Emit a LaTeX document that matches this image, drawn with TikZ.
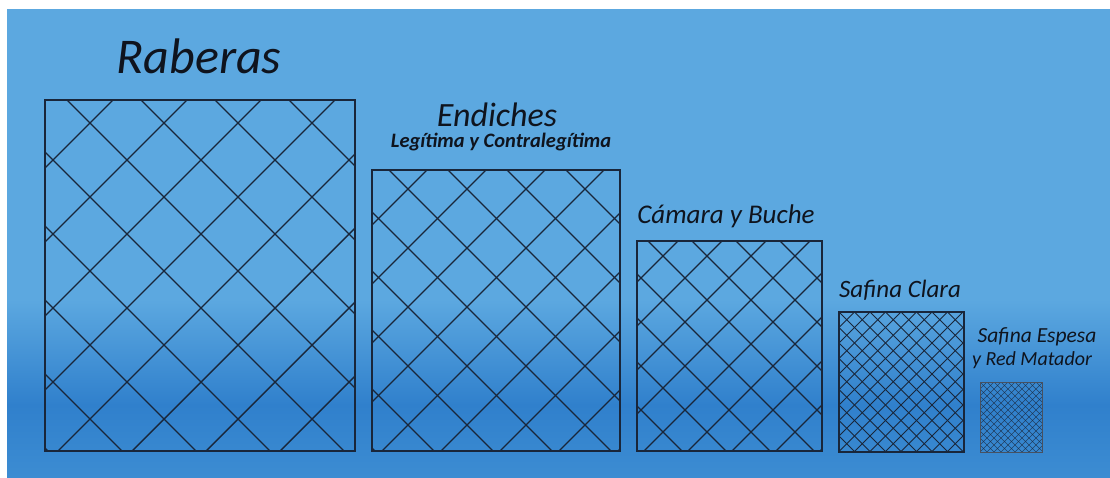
\documentclass[tikz,border=0pt]{standalone}
\usepackage{fontspec}
\setmainfont{Carlito}
\definecolor{bgtop}{RGB}{92,168,224}
\definecolor{bgmid}{RGB}{80,158,220}
\definecolor{bgdark}{RGB}{48,128,204}
\definecolor{bgbot}{RGB}{60,140,210}
\definecolor{ink}{RGB}{25,38,58}
\definecolor{txt}{RGB}{15,20,30}
\tikzset{
  meshline/.style={draw=ink, line cap=round},
  boxline/.style={draw=ink, line width=1.8pt},
  lbl/.style={text=txt, inner sep=0pt, anchor=base},
}
% #1 x1, #2 y1, #3 x2, #4 y2, #5 start of x+y, #6 start of x-y, #7 period, #8 count, #9 line width
\newcommand{\meshbox}[9]{%
  \begin{scope}
    \clip (#1,#2) rectangle (#3,#4);
    \foreach \k in {0,...,#8}{%
      \pgfmathsetmacro{\cc}{#5+\k*#7}%
      \pgfmathsetmacro{\dd}{#6+\k*#7}%
      \draw[meshline,line width=#9] (\cc-#2,#2) -- (\cc-#4,#4);
      \draw[meshline,line width=#9] (\dd+#2,#2) -- (\dd+#4,#4);
    }
  \end{scope}
}
\begin{document}
\begin{tikzpicture}[x=1pt,y=-1pt]
\useasboundingbox (0,0) rectangle (1110,477);
% background
\fill[white] (0,0) rectangle (1110,477);
\fill[bgtop] (7,9) rectangle (1110,300);
\shade[top color=bgtop, bottom color=bgdark] (7,299.5) rectangle (1110,405);
\shade[top color=bgdark, bottom color=bgbot] (7,404.5) rectangle (1110,477);

% meshes
\meshbox{45}{100}{355}{451}{139}{-477}{74}{11}{1.4pt}
\draw[boxline] (45,100) rectangle (355,451);

\meshbox{372}{170}{620}{451}{538}{-135}{59}{12}{1.3pt}
\draw[boxline] (372,170) rectangle (620,451);

\meshbox{637}{241}{822}{451}{875}{-209}{44}{19}{1.2pt}
\draw[boxline] (637,241) rectangle (822,451);

\meshbox{839}{312}{964}{452}{1151}{372}{15.5}{19}{0.9pt}
\draw[boxline,line width=1.5pt] (839,312) rectangle (964,452);

\begin{scope}[opacity=0.7]
\meshbox{980}{382}{1042}{452}{1362}{528}{7}{20}{0.6pt}
\end{scope}
\draw[boxline,line width=1pt,draw=ink!80] (980,382) rectangle (1042,452);

% labels
\node[lbl, font=\fontsize{50}{60}\selectfont\itshape] (raberas) at (199,73) {Raberas};
\node[lbl, font=\fontsize{34}{40}\selectfont\itshape] (endiches) at (497,126) {Endiches};
\node[lbl, font=\fontsize{20.5}{24}\selectfont\bfseries\itshape] (legitima) at (501,147) {Legítima y Contralegítima};
\node[lbl, font=\fontsize{27}{32}\selectfont\itshape] (camara) at (726,223) {Cámara y Buche};
\node[lbl, font=\fontsize{25}{30}\selectfont\itshape] (clara) at (900,297) {Safina Clara};
\node[lbl, font=\fontsize{21.5}{26}\selectfont\itshape] (espesa) at (1037,342) {Safina Espesa};
\node[lbl, font=\fontsize{20}{24}\selectfont\itshape] (matador) at (1032,365) {y Red Matador};
\end{tikzpicture}
\end{document}
